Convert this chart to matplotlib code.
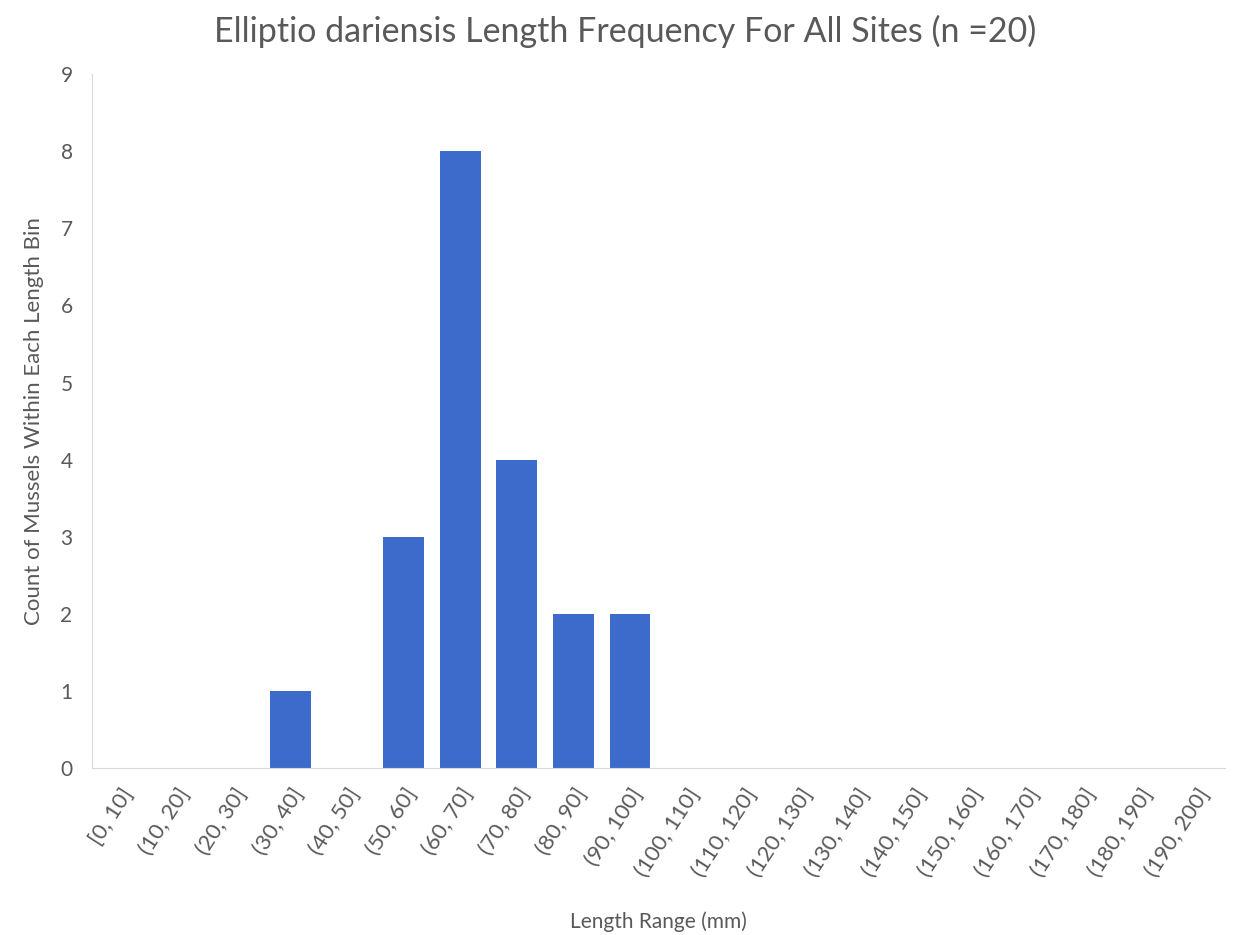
import matplotlib
matplotlib.use('Agg')
import matplotlib.pyplot as plt

bins = ['[0, 10]', '(10, 20]', '(20, 30]', '(30, 40]', '(40, 50]', '(50, 60]', '(60, 70]',
        '(70, 80]', '(80, 90]', '(90, 100]', '(100, 110]', '(110, 120]', '(120, 130]',
        '(130, 140]', '(140, 150]', '(150, 160]', '(160, 170]', '(170, 180]', '(180, 190]',
        '(190, 200]']
counts = [0, 0, 0, 1, 0, 3, 8, 4, 2, 2, 0, 0, 0, 0, 0, 0, 0, 0, 0, 0]

plt.rcParams['font.family'] = ['Lato', 'DejaVu Sans']
grey = '#595959'

fig = plt.figure(figsize=(12.36, 9.35), dpi=100)
ax = fig.add_axes([0.0744, 0.1786, 0.9166, 0.742])
x = range(len(bins))
ax.bar(x, counts, width=0.72, color='#3d6bcb')
ax.set_xlim(-0.5, len(bins) - 0.5)
ax.set_ylim(0, 9)
ax.set_yticks(range(10))
ax.set_xticks(list(x))
ax.set_xticklabels(bins, rotation=57, ha='right', rotation_mode='anchor', fontsize=16)
ax.tick_params(axis='both', length=0, colors=grey)
ax.tick_params(axis='y', pad=14, labelsize=15)
ax.tick_params(axis='x', pad=12)
for s in ['top', 'right']:
    ax.spines[s].set_visible(False)
for s in ['left', 'bottom']:
    ax.spines[s].set_color('#d9d9d9')
ax.set_ylabel('Count of Mussels Within Each Length Bin', color=grey, fontsize=16, labelpad=12)
ax.set_xlabel('Length Range (mm)', color=grey, fontsize=15, labelpad=22)
fig.suptitle('Elliptio dariensis Length Frequency For All Sites (n =20)', color=grey,
             fontsize=24.5, x=0.506, y=0.984)

plt.savefig('out.png', dpi=100)
